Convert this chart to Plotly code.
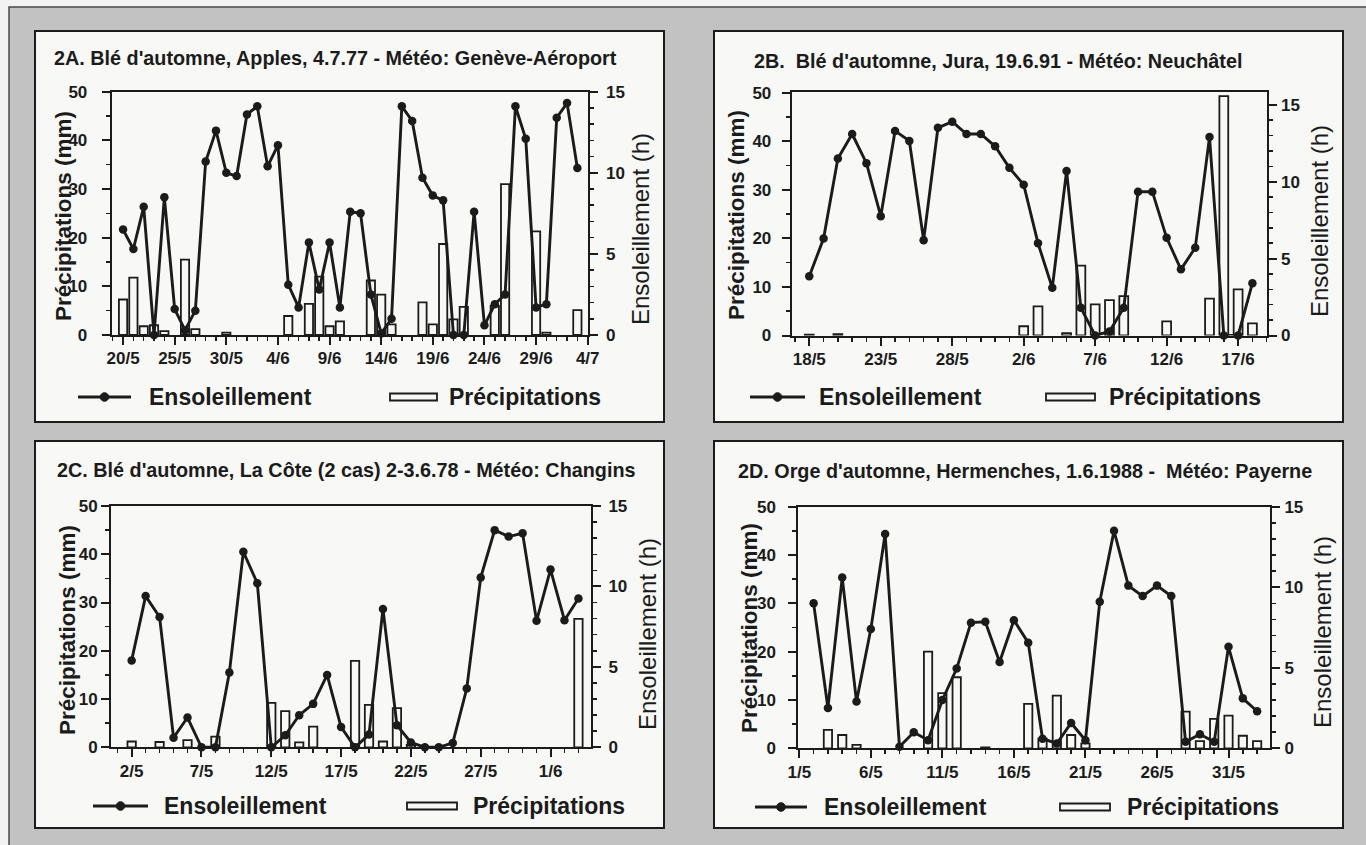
import plotly.graph_objects as go
import pandas as pd

W, H = 1366, 845

# ---------------- data ----------------
# 2A  Blé d'automne, Apples (daily values from 20/5/1977)
start_A = "1977-05-20"
sun_A = [6.5, 5.3, 7.9, 0.0, 8.5, 1.6, 0.3, 1.5, 10.7, 12.6, 10.0, 9.8, 13.6, 14.1, 10.4,
         11.7, 3.1, 1.7, 5.7, 2.8, 5.7, 1.7, 7.6, 7.5, 2.5, 0.1, 1.0, 14.1, 13.2, 9.7,
         8.6, 8.3, 0.0, 0.0, 7.6, 0.6, 1.9, 2.5, 14.1, 12.1, 1.7, 1.9, 13.4, 14.3, 10.3]
precip_A = [7.3, 11.8, 1.8, 2.0, 0.8, 0, 15.5, 1.2, 0, 0, 0.5, 0, 0, 0, 0,
            0, 3.9, 0, 6.4, 12.0, 1.8, 2.8, 0, 0, 11.2, 8.3, 2.2, 0, 0, 6.7,
            2.2, 18.7, 3.2, 5.8, 0, 0, 6.0, 31.0, 0, 0, 21.3, 0.5, 0, 0, 5.1]
ticks_A = ["20/5", "25/5", "30/5", "4/6", "9/6", "14/6", "19/6", "24/6", "29/6", "4/7"]
year_A = 1977
title_A = "2A. Blé d'automne, Apples, 4.7.77 - Météo: Genève-Aéroport"

# 2B  Blé d'automne, Jura (daily values from 18/5/1991)
start_B = "1991-05-18"
sun_B = [3.85, 6.3, 11.5, 13.1, 11.2, 7.76, 13.3, 12.65, 6.2, 13.5, 13.9, 13.1, 13.1, 12.3, 10.9,
         9.8, 6.0, 3.1, 10.7, 1.8, 0.0, 0.26, 1.8, 9.35, 9.35, 6.35, 4.3, 5.7, 12.9, 0.0,
         0.0, 3.4]
precip_B = [0.2, 0, 0.3, 0, 0, 0, 0, 0, 0, 0, 0, 0, 0, 0, 0,
            1.9, 6.0, 0, 0.5, 14.4, 6.4, 7.3, 8.1, 0, 0, 2.9, 0, 0, 7.6, 49.3,
            9.5, 2.5]
ticks_B = ["18/5", "23/5", "28/5", "2/6", "7/6", "12/6", "17/6"]
year_B = 1991
title_B = "2B.  Blé d'automne, Jura, 19.6.91 - Météo: Neuchâtel"

# 2C  Blé d'automne, La Côte (daily values from 2/5/1978)
start_C = "1978-05-02"
sun_C = [5.4, 9.4, 8.1, 0.6, 1.85, 0.0, 0.0, 4.65, 12.15, 10.2, 0.0, 0.75, 2.0, 2.7, 4.5,
         1.26, 0.0, 0.8, 8.6, 1.37, 0.3, 0.0, 0.0, 0.27, 3.65, 10.55, 13.5, 13.1, 13.3, 7.86,
         11.05, 7.9, 9.25]
precip_C = [1.2, 0, 1.1, 0, 1.5, 0, 2.2, 0, 0, 0, 9.2, 7.5, 1.0, 4.3, 0,
            0, 17.9, 8.8, 1.2, 8.1, 0.5, 0, 0, 0, 0, 0, 0, 0, 0, 0,
            0, 0, 26.6]
ticks_C = ["2/5", "7/5", "12/5", "17/5", "22/5", "27/5", "1/6"]
year_C = 1978
title_C = "2C. Blé d'automne, La Côte (2 cas) 2-3.6.78 - Météo: Changins"

# 2D  Orge d'automne, Hermenches (daily values from 2/5/1988)
start_D = "1988-05-02"
sun_D = [9.0, 2.5, 10.6, 2.9, 7.4, 13.3, 0.1, 1.0, 0.5, 3.0, 4.95, 7.8, 7.85, 5.36, 7.95,
         6.56, 0.6, 0.3, 1.57, 0.5, 9.1, 13.5, 10.1, 9.45, 10.1, 9.45, 0.4, 0.87, 0.4, 6.3,
         3.1, 2.3]
precip_D = [0, 3.8, 2.75, 0.7, 0, 0, 0, 0, 20.0, 11.4, 14.7, 0, 0.2, 0, 0,
            9.2, 2.0, 10.9, 2.75, 1.0, 0, 0, 0, 0, 0, 0, 7.6, 1.5, 6.1, 6.75,
            2.6, 1.5]
ticks_D = ["1/5", "6/5", "11/5", "16/5", "21/5", "26/5", "31/5"]
year_D = 1988
title_D = "2D. Orge d'automne, Hermenches, 1.6.1988 -  Météo: Payerne"

legend_sun = "Ensoleillement"
legend_precip = "Précipitations"
ytitle_left = "Précipitations (mm)"
ytitle_right = "Ensoleillement (h)"

# ---------------- layout geometry (pixels) ----------------
INK = "#1b1b1b"
PANEL_BG = "#f8f8f6"
GRAY = "#c2c2c2"
FONT = "Liberation Sans, Arial, Helvetica, sans-serif"


def px(x):
    return x / W


def py(y):
    return 1 - y / H


def day_of(label, year):
    d, m = label.split("/")
    return pd.Timestamp(year, int(m), int(d))


panels = [
    dict(sun=sun_A, precip=precip_A, start=start_A, ticks=ticks_A, year=year_A, title=title_A,
         box=(35, 31, 664, 422), plot=(111.7, 91.7, 587.7, 335.0), xr=(-1.1, 45.0), y1max=50, y2max=15,
         bw=0.8, title_xy=(52, 58), ylab=(64, 216), y2lab=(640, 229),
         leg_y=397, leg_line=(78, 131), leg_t1=147, leg_rect=(390, 437), leg_t2=447,
         lstand=11, rstand=5),
    dict(sun=sun_B, precip=precip_B, start=start_B, ticks=ticks_B, year=year_B, title=title_B,
         box=(714, 31, 1343, 422), plot=(791.7, 91.7, 1266.7, 335.5), xr=(-1.23, 32.0), y1max=50.2, y2max=15.85,
         bw=0.62, title_xy=(752, 61), ylab=(737, 215), y2lab=(1320, 221),
         leg_y=397, leg_line=(750, 805), leg_t1=817, leg_rect=(1046, 1095), leg_t2=1107,
         lstand=7, rstand=1),
    dict(sun=sun_C, precip=precip_C, start=start_C, ticks=ticks_C, year=year_C, title=title_C,
         box=(35, 441, 664, 828), plot=(111.0, 506.0, 591.0, 747.3), xr=(-1.48, 32.9), y1max=50, y2max=15,
         bw=0.6, title_xy=(55, 470), ylab=(67, 630), y2lab=(647, 634),
         leg_y=806, leg_line=(93, 148), leg_t1=162, leg_rect=(407, 457), leg_t2=471,
         lstand=0, rstand=4),
    dict(sun=sun_D, precip=precip_D, start=start_D, ticks=ticks_D, year=year_D, title=title_D,
         box=(714, 441, 1343, 828), plot=(798.3, 506.7, 1270.0, 748.3), xr=(-0.07, 32.9), y1max=50, y2max=15,
         bw=0.58, title_xy=(736, 471), ylab=(749, 628), y2lab=(1322, 632),
         leg_y=807, leg_line=(755, 807), leg_t1=822, leg_rect=(1060, 1110), leg_t2=1125,
         lstand=9, rstand=1),
]

fig = go.Figure()
shapes = []
annotations = []

# outer gray frame
shapes.append(dict(type="rect", xref="paper", yref="paper", x0=px(9), y0=py(H + 20), x1=px(W + 20), y1=py(7),
                   fillcolor=GRAY, line=dict(color="#4a4a4a", width=1.5), layer="below"))

DAY_MS = 86400000

for i, p in enumerate(panels):
    xa = "x" if i == 0 else f"x{i + 1}"
    ya = "y" if i == 0 else f"y{2 * i + 1}"
    yb = f"y{2 * i + 2}"
    xkey = "xaxis" if i == 0 else f"xaxis{i + 1}"
    ykey = "yaxis" if i == 0 else f"yaxis{2 * i + 1}"
    y2key = f"yaxis{2 * i + 2}"

    bx0, by0, bx1, by1 = p["box"]
    shapes.append(dict(type="rect", xref="paper", yref="paper", x0=px(bx0), y0=py(by1), x1=px(bx1), y1=py(by0),
                       fillcolor=PANEL_BG, line=dict(color=INK, width=2), layer="below"))

    start = pd.Timestamp(p["start"])
    dates = pd.date_range(start, periods=len(p["sun"]), freq="D")
    precip = [v if v > 0 else None for v in p["precip"]]

    first_tick = day_of(p["ticks"][0], p["year"])
    tickvals = [day_of(t, p["year"]) for t in p["ticks"]]
    xr0 = first_tick + pd.Timedelta(days=p["xr"][0])
    xr1 = first_tick + pd.Timedelta(days=p["xr"][1])

    fig.add_trace(go.Bar(x=dates, y=precip, xaxis=xa, yaxis=ya, width=p["bw"] * DAY_MS,
                         marker=dict(color=PANEL_BG, line=dict(color=INK, width=1.8)),
                         showlegend=False, name=legend_precip))
    fig.add_trace(go.Scatter(x=dates, y=p["sun"], xaxis=xa, yaxis=yb, mode="lines+markers",
                             line=dict(color=INK, width=2.9), marker=dict(color=INK, size=8.5),
                             cliponaxis=False, showlegend=False, name=legend_sun))

    X0, Y0, X1, Y1 = p["plot"]
    tickfont = dict(family=FONT, size=17, color=INK, weight="bold")
    fig.layout[xkey] = dict(
        domain=[px(X0), px(X1)], anchor=ya, type="date", automargin=False,
        range=[xr0.strftime("%Y-%m-%d %H:%M:%S"), xr1.strftime("%Y-%m-%d %H:%M:%S")],
        tickmode="array", tickvals=tickvals, ticktext=p["ticks"],
        ticks="outside", ticklen=8, tickwidth=2, tickcolor=INK,
        showline=True, linewidth=2, linecolor=INK, mirror=True,
        showgrid=False, zeroline=False, tickfont=tickfont, ticklabelstandoff=-1,
        minor=dict(dtick=DAY_MS, tick0=start.strftime("%Y-%m-%d"), ticks="outside", ticklen=4,
                   tickwidth=1.5, tickcolor=INK, showgrid=False),
    )
    fig.layout[ykey] = dict(
        domain=[py(Y1), py(Y0)], anchor=xa, range=[0, p["y1max"]], automargin=False,
        tickmode="linear", tick0=0, dtick=10,
        ticks="outside", ticklen=8, tickwidth=2, tickcolor=INK,
        showline=True, linewidth=2, linecolor=INK,
        showgrid=False, zeroline=False, tickfont=tickfont, ticklabelstandoff=p["lstand"],
        minor=dict(dtick=5, tick0=0, ticks="outside", ticklen=4, tickwidth=1.5, tickcolor=INK, showgrid=False),
    )
    fig.layout[y2key] = dict(
        domain=[py(Y1), py(Y0)], anchor=xa, overlaying=ya, side="right", range=[0, p["y2max"]],
        automargin=False, tickmode="linear", tick0=0, dtick=5,
        ticks="outside", ticklen=8, tickwidth=2, tickcolor=INK,
        showline=True, linewidth=2, linecolor=INK,
        showgrid=False, zeroline=False, tickfont=tickfont, ticklabelstandoff=p["rstand"],
        minor=dict(dtick=1, tick0=0, ticks="outside", ticklen=4, tickwidth=1.5, tickcolor=INK, showgrid=False),
    )

    # title
    tx, ty = p["title_xy"]
    annotations.append(dict(text=p["title"], xref="paper", yref="paper", x=px(tx), y=py(ty),
                            xanchor="left", yanchor="middle", showarrow=False,
                            font=dict(family=FONT, size=19.8, color=INK, weight="bold")))
    # axis titles
    lx, ly = p["ylab"]
    annotations.append(dict(text=ytitle_left, xref="paper", yref="paper", x=px(lx), y=py(ly),
                            xanchor="center", yanchor="middle", textangle=-90, showarrow=False,
                            font=dict(family=FONT, size=22.5, color=INK, weight="bold")))
    rx, ry = p["y2lab"]
    annotations.append(dict(text=ytitle_right, xref="paper", yref="paper", x=px(rx), y=py(ry),
                            xanchor="center", yanchor="middle", textangle=-90, showarrow=False,
                            font=dict(family=FONT, size=24, color=INK)))

    # legend (drawn)
    ly_ = p["leg_y"]
    l0, l1 = p["leg_line"]
    shapes.append(dict(type="line", xref="paper", yref="paper", x0=px(l0), x1=px(l1), y0=py(ly_), y1=py(ly_),
                       line=dict(color=INK, width=2.9)))
    cx = (l0 + l1) / 2
    shapes.append(dict(type="circle", xref="paper", yref="paper", x0=px(cx - 4.3), x1=px(cx + 4.3),
                       y0=py(ly_ + 4.3), y1=py(ly_ - 4.3), fillcolor=INK, line=dict(color=INK, width=1)))
    annotations.append(dict(text=legend_sun, xref="paper", yref="paper", x=px(p["leg_t1"]), y=py(ly_),
                            xanchor="left", yanchor="middle", showarrow=False,
                            font=dict(family=FONT, size=23, color=INK, weight="bold")))
    r0, r1 = p["leg_rect"]
    shapes.append(dict(type="rect", xref="paper", yref="paper", x0=px(r0), x1=px(r1),
                       y0=py(ly_ + 3.5), y1=py(ly_ - 3.5), fillcolor=PANEL_BG, line=dict(color=INK, width=1.8)))
    annotations.append(dict(text=legend_precip, xref="paper", yref="paper", x=px(p["leg_t2"]), y=py(ly_),
                            xanchor="left", yanchor="middle", showarrow=False,
                            font=dict(family=FONT, size=23, color=INK, weight="bold")))

fig.update_layout(
    template="none",
    width=W, height=H, margin=dict(l=0, r=0, t=0, b=0, pad=0, autoexpand=False),
    paper_bgcolor="#f2f2f2", plot_bgcolor="rgba(0,0,0,0)",
    shapes=shapes, annotations=annotations, showlegend=False,
    bargap=0, barmode="overlay", hovermode=False,
    font=dict(family=FONT, color=INK),
)

fig.write_html("out.html",
               config={"displayModeBar": False, "staticPlot": True},
               post_script="document.body.style.margin='0px';document.body.style.padding='0px';"
                           "document.documentElement.style.overflow='hidden';")
